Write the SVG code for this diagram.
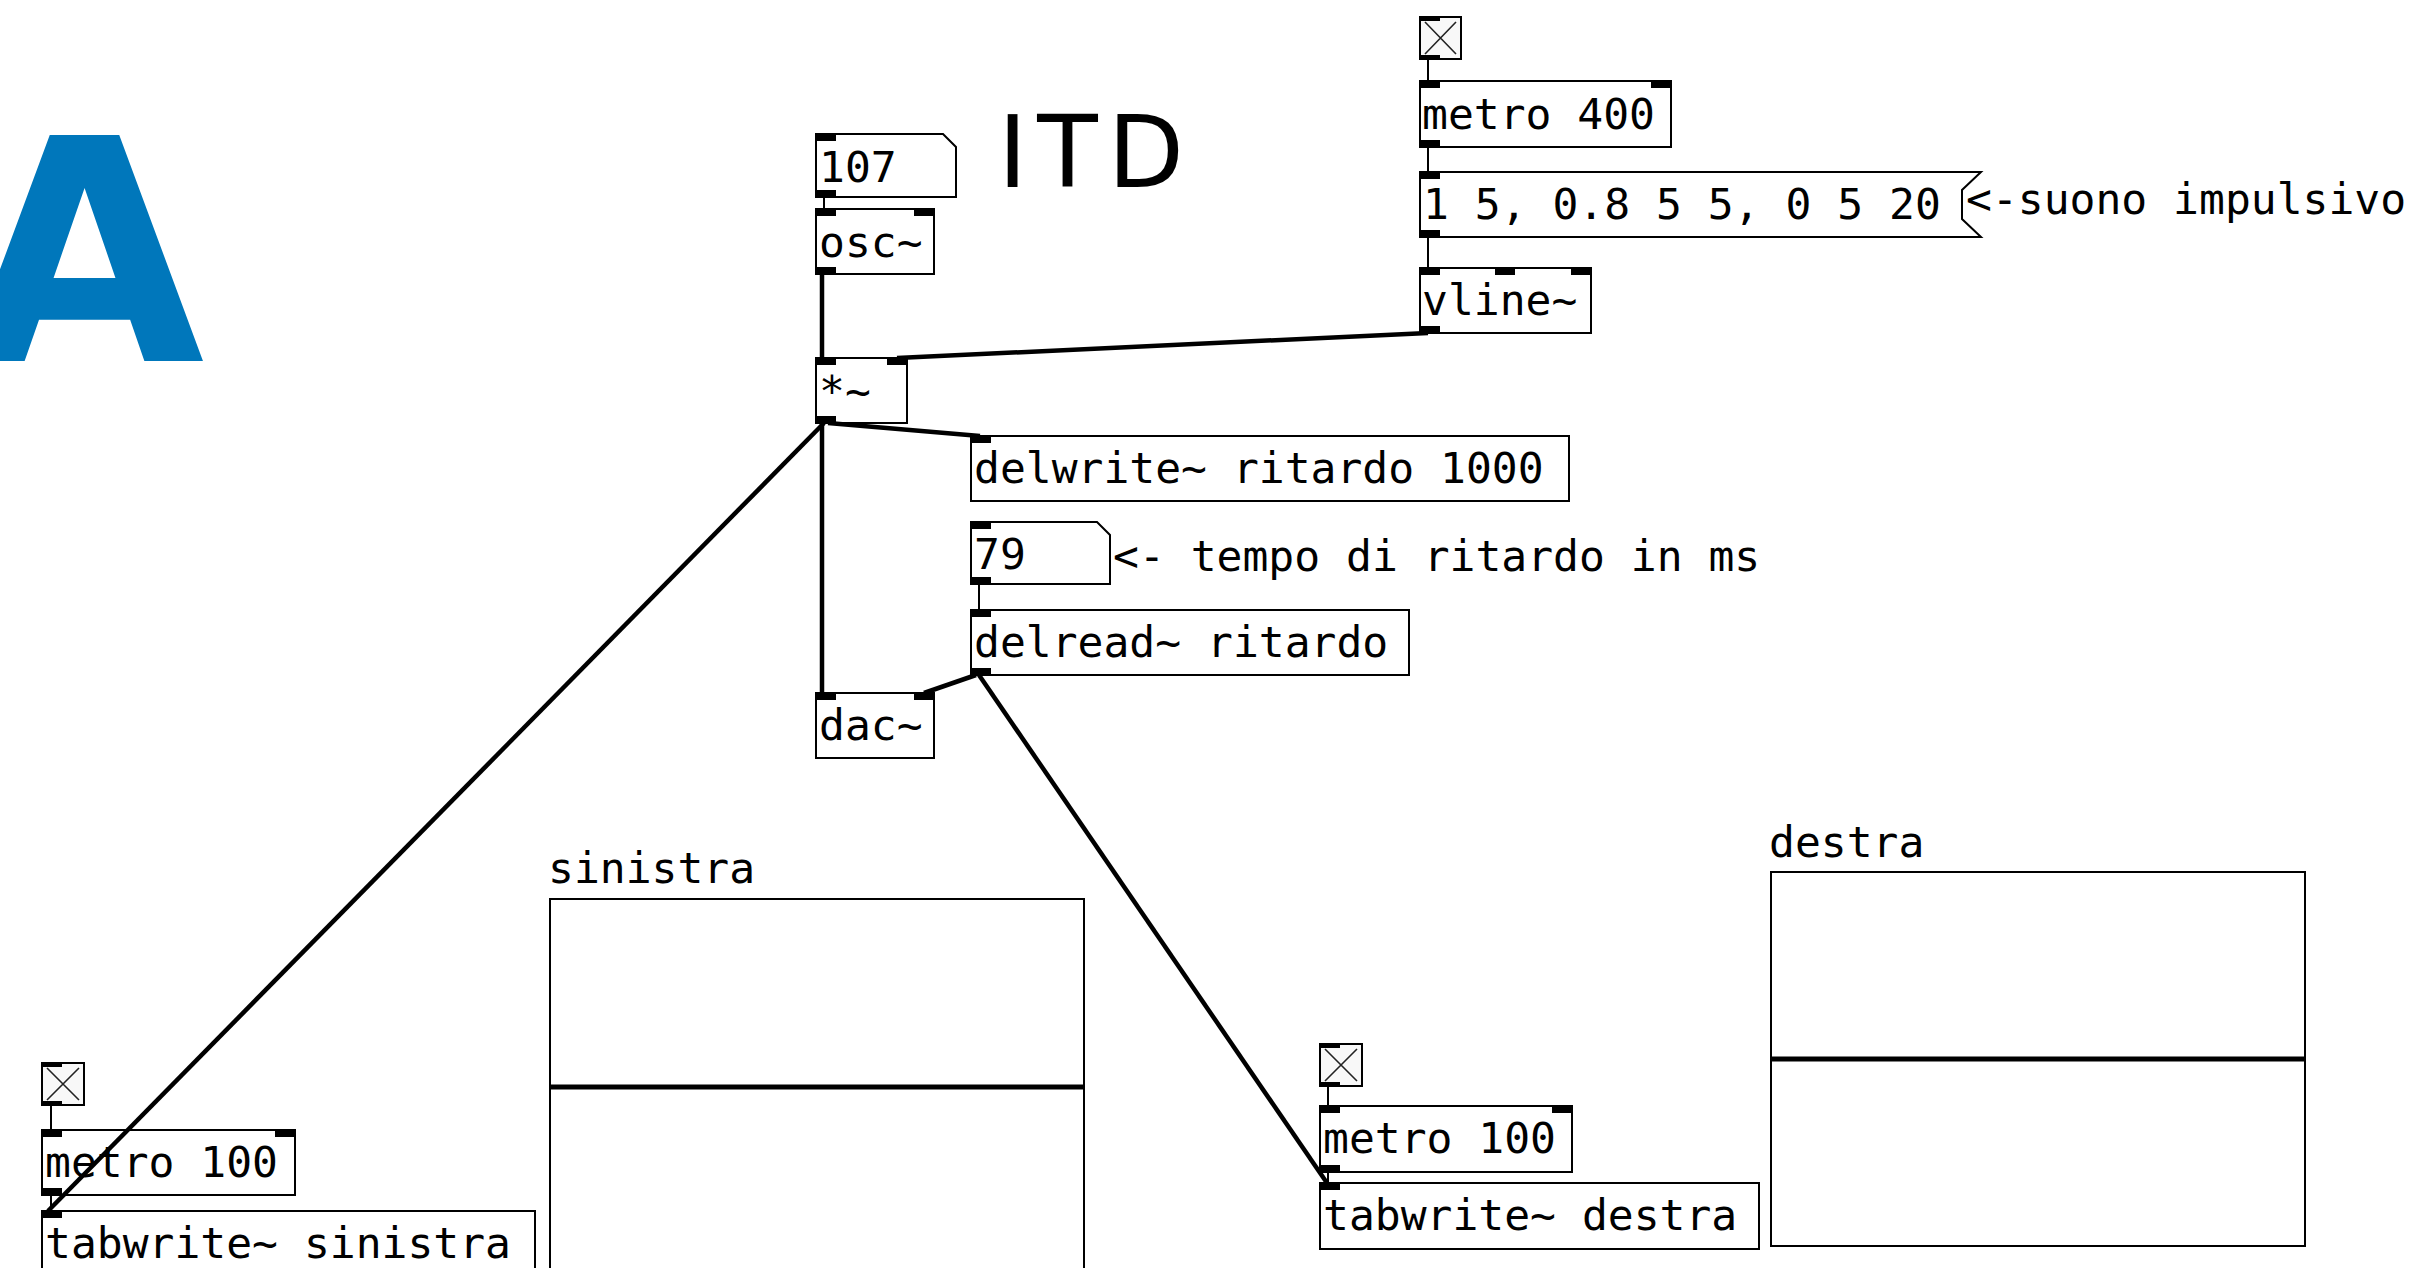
<svg xmlns="http://www.w3.org/2000/svg" width="2423" height="1268" viewBox="0 0 2423 1268">
<style>
.bg{fill:#fff}
.box{fill:#fff;stroke:#000;stroke-width:2}
.tog{fill:#f8f8f8;stroke:#000;stroke-width:2}
.x{stroke:#222;stroke-width:1.6;fill:none}
.io{fill:#000}
.t{font-family:"DejaVu Sans Mono",monospace;font-size:43px;fill:#000}
.sig{stroke:#000;stroke-width:4.5;fill:none;stroke-linecap:butt}
.ctl{stroke:#000;stroke-width:2;fill:none}
.arr{fill:#fff;stroke:#000;stroke-width:2}
.zero{stroke:#000;stroke-width:5;fill:none}
</style>
<rect class="bg" x="0" y="0" width="2423" height="1268"/>
<text id="letterA" x="84.5" y="361" text-anchor="middle" style="font-family:'DejaVu Sans',sans-serif;font-weight:bold;font-size:310px;fill:#0077bb">A</text>
<text id="title" x="998" y="187" style="font-family:'DejaVu Sans',sans-serif;font-size:99px;fill:#000;letter-spacing:10px">ITD</text>

<g id="num107">
<path class="box" d="M816,134 H943 L956,147 V197 H816 Z"/>
<rect class="io" x="816" y="134" width="20" height="7"/>
<rect class="io" x="816" y="190" width="20" height="7"/>
<text class="t" x="819" y="182">107</text>
</g>
<g id="osc">
<rect class="box" x="816" y="209" width="118" height="65"/>
<rect class="io" x="816" y="209" width="20" height="7"/>
<rect class="io" x="914" y="209" width="20" height="7"/>
<rect class="io" x="816" y="267" width="20" height="7"/>
<text class="t" x="819" y="257">osc~</text>
</g>
<g id="mul">
<rect class="box" x="816" y="358" width="91" height="65"/>
<rect class="io" x="816" y="358" width="20" height="7"/>
<rect class="io" x="887" y="358" width="20" height="7"/>
<rect class="io" x="816" y="416" width="20" height="7"/>
<text class="t" x="819" y="406">*~</text>
</g>
<g id="toggleTop">
<rect class="tog" x="1420" y="17" width="41" height="42"/>
<path class="x" d="M1425,22 L1456,54 M1456,22 L1425,54"/>
<rect class="io" x="1420" y="17" width="20" height="4"/>
<rect class="io" x="1420" y="55" width="20" height="4"/>
</g>
<g id="metro400">
<rect class="box" x="1420" y="81" width="251" height="66"/>
<rect class="io" x="1420" y="81" width="20" height="7"/>
<rect class="io" x="1651" y="81" width="20" height="7"/>
<rect class="io" x="1420" y="140" width="20" height="7"/>
<text class="t" x="1422" y="129">metro 400</text>
</g>
<g id="msg">
<path class="box" d="M1420,172 H1981 L1962,190 V219 L1981,237 H1420 Z"/>
<rect class="io" x="1420" y="172" width="20" height="7"/>
<rect class="io" x="1420" y="230" width="20" height="7"/>
<text class="t" x="1423" y="219">1 5, 0.8 5 5, 0 5 20</text>
</g>
<g id="comment1">
<text class="t" x="1966" y="214">&lt;-suono impulsivo</text>
</g>
<g id="vline">
<rect class="box" x="1420" y="268" width="171" height="65"/>
<rect class="io" x="1420" y="268" width="20" height="7"/>
<rect class="io" x="1495" y="268" width="20" height="7"/>
<rect class="io" x="1571" y="268" width="20" height="7"/>
<rect class="io" x="1420" y="326" width="20" height="7"/>
<text class="t" x="1422" y="315">vline~</text>
</g>
<g id="delwrite">
<rect class="box" x="971" y="436" width="598" height="65"/>
<rect class="io" x="971" y="436" width="20" height="7"/>
<text class="t" x="974" y="483">delwrite~ ritardo 1000</text>
</g>
<g id="num79">
<path class="box" d="M971,522 H1097 L1110,535 V584 H971 Z"/>
<rect class="io" x="971" y="522" width="20" height="7"/>
<rect class="io" x="971" y="577" width="20" height="7"/>
<text class="t" x="974" y="569">79</text>
</g>
<g id="comment2">
<text class="t" x="1113" y="571">&lt;- tempo di ritardo in ms</text>
</g>
<g id="delread">
<rect class="box" x="971" y="610" width="438" height="65"/>
<rect class="io" x="971" y="610" width="20" height="7"/>
<rect class="io" x="971" y="668" width="20" height="7"/>
<text class="t" x="974" y="657">delread~ ritardo</text>
</g>
<g id="dac">
<rect class="box" x="816" y="693" width="118" height="65"/>
<rect class="io" x="816" y="693" width="20" height="7"/>
<rect class="io" x="914" y="693" width="20" height="7"/>
<text class="t" x="819" y="740">dac~</text>
</g>
<g id="toggleLeft">
<rect class="tog" x="42" y="1063" width="42" height="42"/>
<path class="x" d="M47,1068 L79,1100 M79,1068 L47,1100"/>
<rect class="io" x="42" y="1063" width="20" height="4"/>
<rect class="io" x="42" y="1101" width="20" height="4"/>
</g>
<g id="metro100L">
<rect class="box" x="42" y="1130" width="253" height="65"/>
<rect class="io" x="42" y="1130" width="20" height="7"/>
<rect class="io" x="275" y="1130" width="20" height="7"/>
<rect class="io" x="42" y="1188" width="20" height="7"/>
<text class="t" x="45" y="1177">metro 100</text>
</g>
<g id="tabwriteL">
<rect class="box" x="42" y="1211" width="493" height="80"/>
<rect class="io" x="42" y="1211" width="20" height="7"/>
<text class="t" x="45" y="1258">tabwrite~ sinistra</text>
</g>
<g id="arraySinistra">
<text class="t" x="548" y="883">sinistra</text>
<rect class="arr" x="550" y="899" width="534" height="380"/>
<path class="zero" d="M551,1087 H1083"/>
</g>
<g id="toggleRight">
<rect class="tog" x="1320" y="1044" width="42" height="42"/>
<path class="x" d="M1325,1049 L1357,1081 M1357,1049 L1325,1081"/>
<rect class="io" x="1320" y="1044" width="20" height="4"/>
<rect class="io" x="1320" y="1082" width="20" height="4"/>
</g>
<g id="metro100R">
<rect class="box" x="1320" y="1106" width="252" height="66"/>
<rect class="io" x="1320" y="1106" width="20" height="7"/>
<rect class="io" x="1552" y="1106" width="20" height="7"/>
<rect class="io" x="1320" y="1165" width="20" height="7"/>
<text class="t" x="1323" y="1153">metro 100</text>
</g>
<g id="tabwriteR">
<rect class="box" x="1320" y="1183" width="439" height="66"/>
<rect class="io" x="1320" y="1183" width="20" height="7"/>
<text class="t" x="1323" y="1230">tabwrite~ destra</text>
</g>
<g id="arrayDestra">
<text class="t" x="1769" y="857">destra</text>
<rect class="arr" x="1771" y="872" width="534" height="374"/>
<path class="zero" d="M1772,1059 H2304"/>
</g>

<g id="connectors">
<path class="sig" d="M822,274 V358"/>
<path class="sig" d="M1428,333 L897,358"/>
<path class="sig" d="M828,423 L980,436"/>
<path class="sig" d="M822,423 V693"/>
<path class="sig" d="M824,423 L48,1211"/>
<path class="sig" d="M976,675 L924,693"/>
<path class="sig" d="M979,675 L1327,1183"/>
<path class="ctl" d="M824,197 V209"/>
<path class="ctl" d="M1428,59 V81"/>
<path class="ctl" d="M1428,147 V172"/>
<path class="ctl" d="M1428,237 V268"/>
<path class="ctl" d="M979,584 V610"/>
<path class="ctl" d="M51,1105 V1130"/>
<path class="ctl" d="M51,1195 V1211"/>
<path class="ctl" d="M1328,1086 V1106"/>
<path class="ctl" d="M1328,1172 V1183"/>
</g>
</svg>
